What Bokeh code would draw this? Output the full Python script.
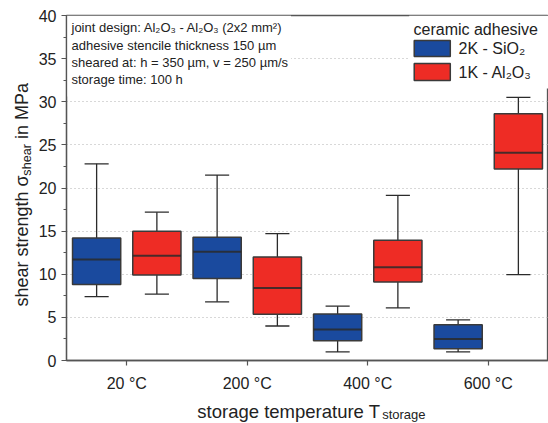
import math
from bokeh.plotting import figure
from bokeh.layouts import row, column
from bokeh.models import ColumnDataSource, Label, FixedTicker, SingleIntervalTicker
from bokeh.embed import file_html
from bokeh.resources import INLINE

# ---------------- data ----------------
categories = ["20 °C", "200 °C", "400 °C", "600 °C"]
cat_pos = [1, 2, 3, 4]

sio2_low = [7.4, 6.8, 1.0, 1.0]
sio2_q1 = [8.8, 9.5, 2.3, 1.35]
sio2_med = [11.7, 12.6, 3.6, 2.5]
sio2_q3 = [14.2, 14.3, 5.4, 4.15]
sio2_high = [22.8, 21.5, 6.3, 4.7]

al2o3_low = [7.7, 4.0, 6.1, 9.95]
al2o3_q1 = [9.9, 5.35, 9.1, 22.2]
al2o3_med = [12.15, 8.4, 10.8, 24.1]
al2o3_q3 = [15.0, 12.0, 13.95, 28.6]
al2o3_high = [17.2, 14.7, 19.15, 30.5]

series_names = ["2K - SiO\u2082", "1K - Al\u2082O\u2083"]
legend_title = "ceramic adhesive"
info_lines = [
    "joint design: Al\u2082O\u2083 - Al\u2082O\u2083 (2x2 mm\u00b2)",
    "adhesive stencile thickness 150 \u00b5m",
    "sheared at: h = 350 \u00b5m, v = 250 \u00b5m/s",
    "storage time: 100 h",
]

# ---------------- layout ----------------
W, H = 548, 423
LW = 35                                   # width of the y-label strip
BH = 28                                   # height of the x-label strip
FL, FR, FT, FB = 66, 547, 15, 360         # frame edges in canvas px
X0, X1, Y0, Y1 = 0.5, 4.5, 0.0, 40.0
FONT = "Liberation Sans"
BLUE = "#1a4a9e"
RED = "#ee2c25"
DARK = "#2b2b2b"
TXT = "#222222"

def dx(px):
    return X0 + (px - FL) * (X1 - X0) / (FR - FL)

def dy(py):
    return Y0 + (FB - py) * (Y1 - Y0) / (FB - FT)

ARIAL = {' ': 278, 's': 500, 'h': 556, 'e': 556, 'a': 556, 'r': 333, 't': 278,
         'n': 556, 'g': 556, 'i': 222, 'o': 556, 'm': 833, 'p': 556, 'u': 556,
         'T': 611, 'M': 833, 'P': 667, '\u03c3': 600}

def tw(text, size):
    return sum(ARIAL.get(c, 556) for c in text) / 1000.0 * size

def screen_label(px, py, text, size, **kw):
    # screen units are measured from the frame's bottom-left corner
    return Label(x=px - FL, y=FB - py, x_units="screen", y_units="screen",
                 text=text, text_font=FONT, text_font_size=size, text_color=TXT, **kw)

def blank_fig(w, h, xr, yr):
    f = figure(width=w, height=h, x_range=xr, y_range=yr, output_backend="svg",
               toolbar_location=None, x_axis_location=None, y_axis_location=None,
               min_border=0)
    f.min_border_left = f.min_border_right = f.min_border_top = f.min_border_bottom = 0
    f.outline_line_color = None
    f.grid.visible = False
    f.background_fill_color = "white"
    f.border_fill_color = "white"
    return f

MW, MH = W - LW, H - BH
p = figure(width=MW, height=MH, x_range=(X0, X1), y_range=(Y0, Y1),
           output_backend="svg", toolbar_location=None,
           min_border_left=FL - LW, min_border_right=MW - (FR - LW) - 1,
           min_border_top=FT, min_border_bottom=MH - FB)
p.background_fill_color = "white"
p.border_fill_color = "white"
p.outline_line_color = "#555555"
p.outline_line_width = 1.3

# grid
p.xgrid.visible = False
p.ygrid.grid_line_color = "#b0b0b0"
p.ygrid.grid_line_dash = "1 3"
p.ygrid.grid_line_width = 1

# axes
p.xaxis.ticker = FixedTicker(ticks=cat_pos)
p.xaxis.major_label_overrides = {c: l for c, l in zip(cat_pos, categories)}
p.yaxis.ticker = SingleIntervalTicker(interval=5, num_minor_ticks=2)
for ax in (p.xaxis[0], p.yaxis[0]):
    ax.axis_line_color = "#555555"
    ax.axis_line_width = 1.3
    ax.major_tick_line_color = "#555555"
    ax.major_tick_line_width = 1.2
    ax.minor_tick_line_color = "#555555"
    ax.major_tick_out = 5
    ax.major_tick_in = 0
    ax.minor_tick_out = 3
    ax.minor_tick_in = 0
    ax.major_label_text_font = FONT
    ax.major_label_text_font_size = "16px"
    ax.major_label_text_color = TXT
p.xaxis.minor_tick_line_color = None
p.yaxis.major_label_standoff = 5
p.xaxis.major_label_standoff = 9

# white backgrounds behind info text and legend
p.quad(left=[dx(FL), dx(408)], right=[dx(290), dx(FR)], bottom=[dy(96), dy(88)],
       top=[Y1, Y1], fill_color="white", line_color=None)

OFF = 0.25
BW = 0.4
CAP = 0.2

def draw_series(xs, low, q1, med, q3, high, color):
    src = ColumnDataSource(dict(x=xs, low=low, q1=q1, med=med, q3=q3, high=high,
                                cl=[x - CAP / 2 for x in xs], cr=[x + CAP / 2 for x in xs],
                                ml=[x - BW / 2 for x in xs], mr=[x + BW / 2 for x in xs]))
    p.segment(x0="x", y0="low", x1="x", y1="q1", source=src, line_color=DARK, line_width=1.3)
    p.segment(x0="x", y0="q3", x1="x", y1="high", source=src, line_color=DARK, line_width=1.3)
    p.segment(x0="cl", y0="low", x1="cr", y1="low", source=src, line_color=DARK, line_width=1.3)
    p.segment(x0="cl", y0="high", x1="cr", y1="high", source=src, line_color=DARK, line_width=1.3)
    r = p.vbar(x="x", width=BW, bottom="q1", top="q3", source=src,
               fill_color=color, line_color="#3a3a3a", line_width=1.5)
    p.segment(x0="ml", y0="med", x1="mr", y1="med", source=src,
              line_color="#2a2a2a", line_width=2, line_alpha=0.85)
    return r

draw_series([c - OFF for c in cat_pos], sio2_low, sio2_q1, sio2_med, sio2_q3, sio2_high, BLUE)
draw_series([c + OFF for c in cat_pos], al2o3_low, al2o3_q1, al2o3_med, al2o3_q3, al2o3_high, RED)

# legend (drawn manually to match the reference layout)
leg_colors = [BLUE, RED]
leg_rows = [(40, 56), (63, 80)]
p.quad(left=[dx(413)] * 2, right=[dx(449)] * 2,
       top=[dy(r[0]) for r in leg_rows], bottom=[dy(r[1]) for r in leg_rows],
       fill_color=leg_colors, line_color="#3a3a3a", line_width=1.5)
p.add_layout(screen_label(413, 29, legend_title, "16px",
                          text_align="left", text_baseline="middle"))
for name, (t, b) in zip(series_names, leg_rows):
    p.add_layout(screen_label(458, (t + b) / 2, name, "16px",
                              text_align="left", text_baseline="middle"))

# info text
for line, py in zip(info_lines, [27, 45, 62, 79]):
    p.add_layout(screen_label(71, py, line, "13px",
                              text_align="left", text_baseline="middle"))

# ---- x axis title strip (canvas px coordinates: x = px, y = H - py) ----
bottom = blank_fig(MW, BH, (LW, W), (0, BH))
XL_MAIN = "storage temperature T"
XL_SUB = "storage"
bottom.add_layout(Label(x=369, y=H - 411, text=XL_MAIN, text_font=FONT,
                        text_font_size="18.5px", text_color=TXT,
                        text_align="right", text_baseline="alphabetic"))
bottom.add_layout(Label(x=371, y=H - 414, text=XL_SUB, text_font=FONT,
                        text_font_size="13px", text_color=TXT,
                        text_align="left", text_baseline="alphabetic"))

# ---- y axis title strip (rotated, with subscript) ----
left = blank_fig(LW, H, (0, LW), (0, H))
YL_A = "shear strength \u03c3"
YL_SUB = "shear"
YL_B = "in MPa"
y_start = 306
y_sub = y_start - tw(YL_A, 18)
y_b = y_sub - tw(YL_SUB, 12.6) - tw(" ", 18)
for txt, py, px, fs in [(YL_A, y_start, 21, "18px"), (YL_SUB, y_sub, 26, "12.6px"),
                        (YL_B, y_b, 21, "18px")]:
    left.add_layout(Label(x=px, y=H - py, text=txt, text_font=FONT, text_font_size=fs,
                          text_color=TXT, angle=math.pi / 2,
                          text_align="left", text_baseline="alphabetic"))

layout = row(left, column(p, bottom, spacing=0), spacing=0)
open("out.html", "w").write(file_html(layout, INLINE))
